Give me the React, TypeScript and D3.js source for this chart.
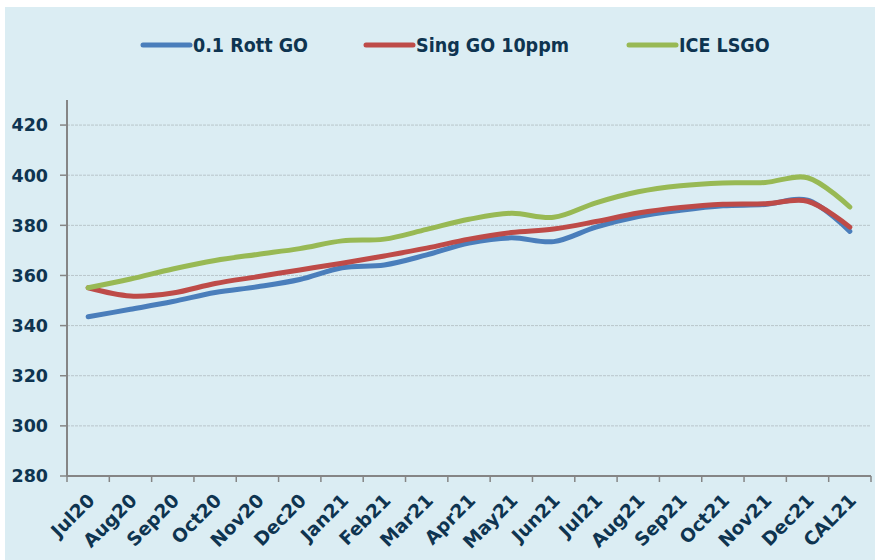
import React from 'react'
import * as d3 from 'd3'

const months = [
  'Jul20', 'Aug20', 'Sep20', 'Oct20', 'Nov20', 'Dec20', 'Jan21', 'Feb21', 'Mar21', 'Apr21',
  'May21', 'Jun21', 'Jul21', 'Aug21', 'Sep21', 'Oct21', 'Nov21', 'Dec21', 'CAL21',
]

const rottGO = [343.5, 346.5, 349.6, 353.2, 355.5, 358.4, 363.1, 364.2, 368.2, 372.9, 375.0, 373.5, 379.3, 383.5, 386.0, 387.8, 388.3, 390.0, 377.6]
const singGO = [355.1, 351.8, 353.0, 356.8, 359.5, 362.2, 364.9, 367.8, 370.9, 374.5, 377.1, 378.5, 381.5, 384.9, 387.1, 388.4, 388.6, 389.6, 379.3]
const iceLSGO = [355.1, 358.6, 362.6, 366.0, 368.4, 370.7, 373.8, 374.5, 378.4, 382.4, 384.8, 383.2, 389.0, 393.4, 395.8, 396.9, 397.1, 399.0, 387.3]

const yTicks = [280, 300, 320, 340, 360, 380, 400, 420]

const series = [
  { name: '0.1 Rott GO', values: rottGO, color: '#4a7ebb' },
  { name: 'Sing GO 10ppm', values: singGO, color: '#be4b48' },
  { name: 'ICE LSGO', values: iceLSGO, color: '#98b954' },
]

const W = 875
const H = 560
const plot = { left: 67, right: 871, top: 100, bottom: 476 }
const textColor = '#0e3450'
const font = '"DejaVu Sans", Verdana, sans-serif'

export default function App() {
  const x = d3.scaleBand().domain(months).range([plot.left, plot.right]).padding(0)
  const y = d3.scaleLinear().domain([280, 430]).range([plot.bottom, plot.top])
  const cx = (m: string) => (x(m) ?? 0) + x.bandwidth() / 2

  const line = d3
    .line<number>()
    .x((_, i) => cx(months[i]))
    .y((d) => y(d))
    .curve(d3.curveCatmullRom.alpha(0.5))

  const legendX = [143, 366, 629]

  return (
    <svg width={W} height={H} style={{ position: 'absolute', left: 0, top: 0 }}>
      <rect x={0} y={0} width={W} height={H} fill="#ffffff" />
      <rect x={5} y={7} width={W - 5} height={H - 7} fill="#dbedf3" />

      {/* grid */}
      {yTicks.filter((t) => t > 280).map((t) => (
        <line key={t} x1={plot.left} x2={plot.right} y1={y(t)} y2={y(t)}
          stroke="#b9c6cb" strokeWidth={1} strokeDasharray="3,1" />
      ))}

      {/* y axis */}
      <line x1={plot.left} x2={plot.left} y1={plot.top} y2={plot.bottom} stroke="#858585" strokeWidth={2} />
      {yTicks.map((t) => (
        <g key={t}>
          <line x1={plot.left - 7} x2={plot.left} y1={y(t)} y2={y(t)} stroke="#858585" strokeWidth={1.5} />
          <text x={48} y={y(t)} dy="0.36em" textAnchor="end" fontFamily={font} fontWeight="bold"
            fontSize={17.5} fill={textColor}>{t}</text>
        </g>
      ))}

      {/* x axis */}
      <line x1={plot.left} x2={plot.right} y1={plot.bottom} y2={plot.bottom} stroke="#858585" strokeWidth={2} />
      {[...months.map((m) => x(m) ?? 0), plot.right].map((v, i) => (
        <line key={i} x1={v} x2={v} y1={plot.bottom} y2={plot.bottom + 6} stroke="#858585" strokeWidth={1.5} />
      ))}
      {months.map((m) => (
        <text key={m} transform={`translate(${cx(m) + 3},${497}) rotate(-45)`} dy="0.35em"
          textAnchor="end" fontFamily={font} fontWeight="bold" fontSize={18.5} fill={textColor}>{m}</text>
      ))}

      {/* lines */}
      {series.map((s) => (
        <path key={s.name} d={line(s.values) ?? ''} fill="none" stroke={s.color}
          strokeWidth={5} strokeLinecap="round" strokeLinejoin="round" />
      ))}

      {/* legend */}
      {series.map((s, i) => (
        <g key={s.name}>
          <line x1={legendX[i]} x2={legendX[i] + 47} y1={45} y2={45} stroke={s.color}
            strokeWidth={5} strokeLinecap="round" />
          <text x={legendX[i] + 50} y={45} dy="0.36em" fontFamily='"DejaVu Sans Condensed", "DejaVu Sans", sans-serif'
            fontWeight="bold" fontSize={19.5} fill={textColor}>{s.name}</text>
        </g>
      ))}
    </svg>
  )
}
